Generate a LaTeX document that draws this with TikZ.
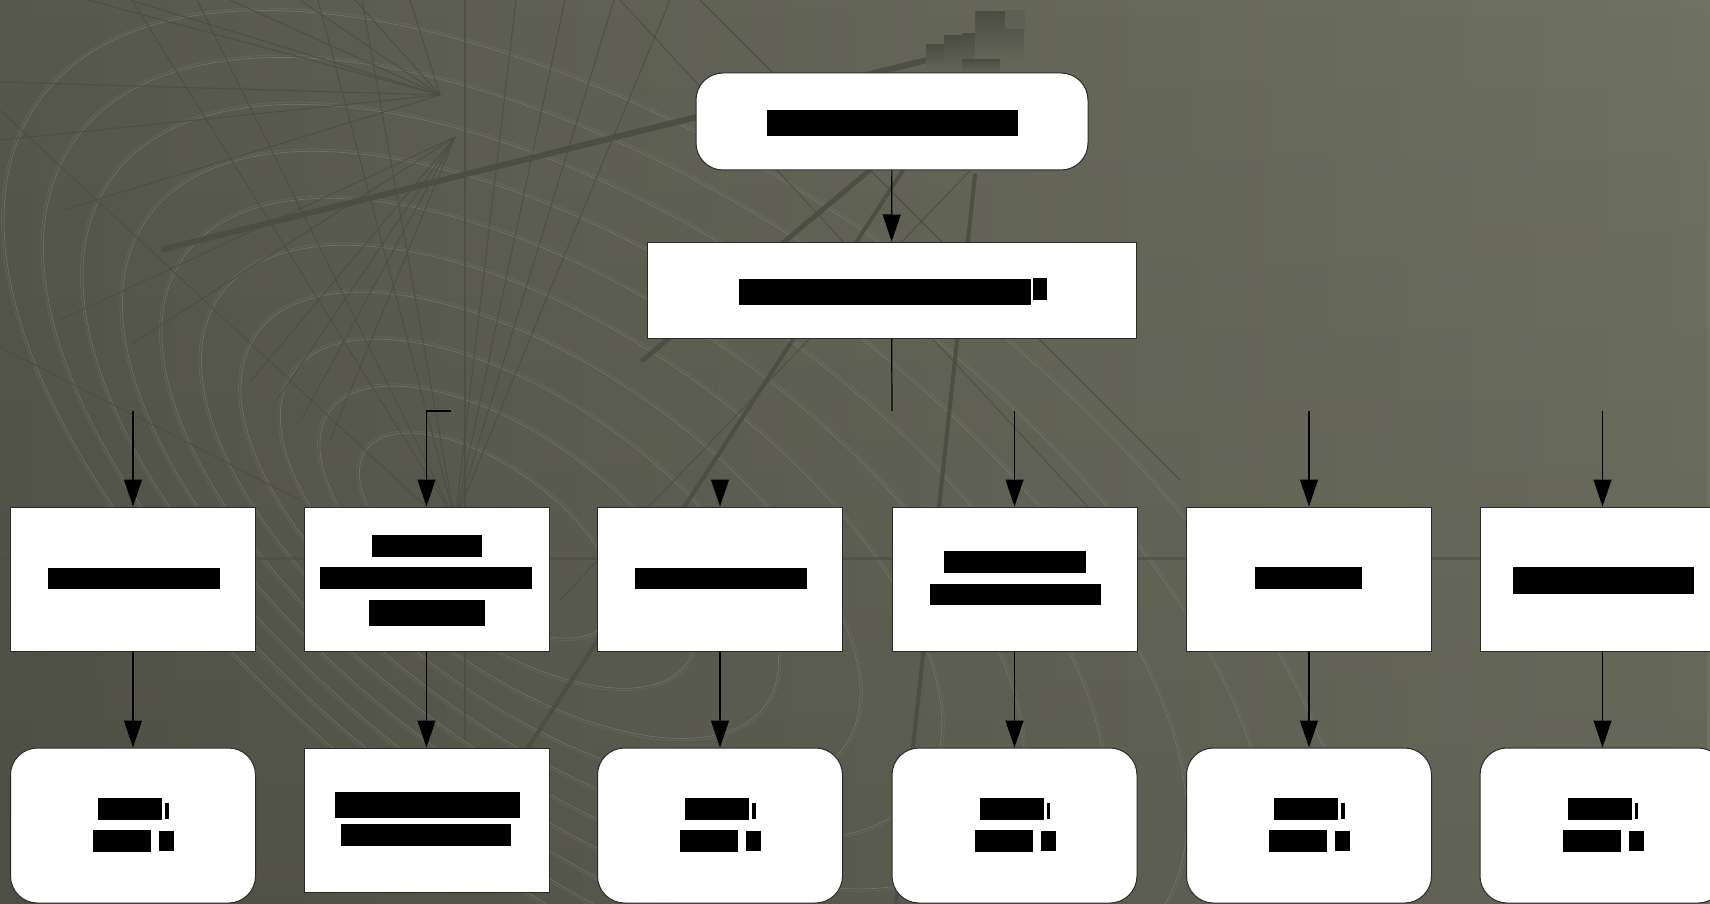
\documentclass[tikz,border=0pt]{standalone}
\usetikzlibrary{arrows.meta,fadings}
\definecolor{bgL}{HTML}{57584C}
\definecolor{bgR}{HTML}{6F7162}
\definecolor{deco}{HTML}{4C4D42}
\definecolor{arcc}{HTML}{83857A}
\definecolor{frame}{HTML}{2A2A2A}
\tikzset{
  sq/.style={draw=frame, fill=white, line width=1pt, minimum width=245pt, minimum height=144pt, inner sep=0pt},
  rr/.style={sq, rounded corners=27pt},
  arr/.style={line width=1.2pt, draw=black, -{Triangle[length=27pt,width=18pt]}},
  conn/.style={line width=1.2pt, draw=black},
  fan/.style={draw=deco, line width=1.1pt, opacity=0.8},
  thick deco/.style={draw=deco, line cap=round, opacity=0.9},
  arcline/.style={draw=arcc, line width=0.7pt, opacity=0.55},
  txt/.style={fill=black}
}
\begin{document}
\begin{tikzpicture}[x=1pt,y=-1pt]
\clip (0,0) rectangle (1710,904);
\useasboundingbox (0,0) rectangle (1710,904);
% background
\shade[left color=bgL, right color=bgR] (0,0) rectangle (1710,904);
\fill[black, opacity=0.10, path fading=north] (0,0) rectangle (1710,904);
% nested tilted ellipses
\foreach \k in {0,...,9}{
  \pgfmathsetmacro{\s}{1-0.09*\k}
  \pgfmathsetmacro{\cx}{265+16*\k+412*\s}
  \pgfmathsetmacro{\cy}{10+47*\k+540*\s}
  \pgfmathsetmacro{\ra}{780*\s}
  \pgfmathsetmacro{\rb}{368*\s}
  \draw[arcline, rotate around={-35:(\cx,\cy)}] (\cx,\cy) ellipse ({\ra} and {\rb});
  \draw[arcline, opacity=0.3, rotate around={-35:(\cx,\cy)}] (\cx,\cy) ellipse ({\ra+2.5} and {\rb+2.5});
}
% horizontal faint line
\draw[deco, line width=3pt, opacity=0.6] (0,558) -- (1710,558);
% fan from upper focus
\foreach \p in {(88,0),(130,0),(230,0),(300,0),(355,0),(410,0),(0,82),(63,210),(0,140)}{
  \draw[fan] (440,95) -- \p;
}
% fan from second focus
\foreach \p in {(250,382),(277,400),(302,418),(330,440),(130,345),(60,320)}{
  \draw[fan] (455,137) -- \p;
}
% long lines converging near box 2 top
\foreach \t in {132,197,318,362,516,565,614,670}{
  \draw[fan] (\t,0) -- (455,520);
}
\draw[fan] (465,0) -- (465,740);
\draw[fan] (0,347) -- (300,500);
\draw[fan] (0,110) -- (440,520);
\draw[fan] (620,0) -- (1100,520);
\draw[fan] (700,0) -- (1180,480);
\draw[fan] (560,600) -- (980,160);
% thick lines
\draw[thick deco, line width=6pt] (164,249) -- (927,60);
\draw[thick deco, line width=5pt] (643,360) -- (870,170);
\draw[thick deco, line width=4pt] (518,763) -- (907,164);
\draw[thick deco, line width=4pt] (975,175) -- (896,904);
% staircase
\foreach \a/\b/\c/\d in {926/45/944/73, 944/36/962/73, 962/34/975/73, 975/12/1024/60, 962/60/1000/73}{
  \shade[top color=deco, bottom color=bgR!90!black] (\a,\b) rectangle (\c,\d);
}
\fill[bgR!85!black] (1005,10) rectangle (1025,29);

% nodes
\node[rr, minimum width=392pt, minimum height=97pt] (top) at (892,121.5) {};
\node[sq, minimum width=489pt, minimum height=96pt] (mid) at (891.5,290) {};
\foreach \i/\x in {1/133,2/426.5,3/720,4/1014.5,5/1309,6/1602.5}{
  \node[sq] (a\i) at (\x,579) {};
}
\foreach \i/\x in {1/133,3/720,4/1014.5,5/1309,6/1602.5}{
  \node[rr, minimum height=155pt] (b\i) at (\x,825.5) {};
}
\node[sq] (b2) at (426.5,820) {};

% connectors
\draw[arr] (top) -- (mid);
\coordinate (hub) at (892,411);
\draw[conn] (mid) -- (hub);
\coordinate (s1) at (133,411);
\coordinate (s2) at (451,411);
\coordinate (s3) at (720,481);
\coordinate (s4) at (1014.5,411);
\coordinate (s5) at (1309,411);
\coordinate (s6) at (1602.5,411);
\draw[arr] (s1) -- (a1);
\draw[arr] (s2) -- (426.5,411) -- (a2);
\draw[arr] (s3) -- (a3);
\draw[arr] (s4) -- (a4);
\draw[arr] (s5) -- (a5);
\draw[arr] (s6) -- (a6);
\foreach \i in {1,...,6}{
  \draw[arr] (a\i) -- (b\i);
}

% text bars
\fill[txt] (767,110) rectangle (1018,136);
\fill[txt] (739,279) rectangle (1031,305);
\fill[txt] (1033,278) rectangle (1047,300);
\fill[txt] (48,568) rectangle (220,589);
\fill[txt] (372,535) rectangle (482,557);
\fill[txt] (320,567) rectangle (532,589);
\fill[txt] (369,600) rectangle (485,626);
\fill[txt] (635,568) rectangle (807,589);
\fill[txt] (944,551) rectangle (1086,573);
\fill[txt] (930,584) rectangle (1101,605);
\fill[txt] (1255,567) rectangle (1362,589);
\fill[txt] (1513,567) rectangle (1694,594);
\fill[txt] (335,792) rectangle (520,818);
\fill[txt] (341,824) rectangle (511,846);
\foreach \x in {133,720,1014.5,1309,1602.5}{
  \fill[txt] (\x-35,798) rectangle (\x+29,820);
  \fill[txt] (\x+32,803) rectangle (\x+35.5,819);
  \fill[txt] (\x-40,830) rectangle (\x+18,852);
  \fill[txt] (\x+26,831) rectangle (\x+41,851);
}
\end{tikzpicture}
\end{document}
